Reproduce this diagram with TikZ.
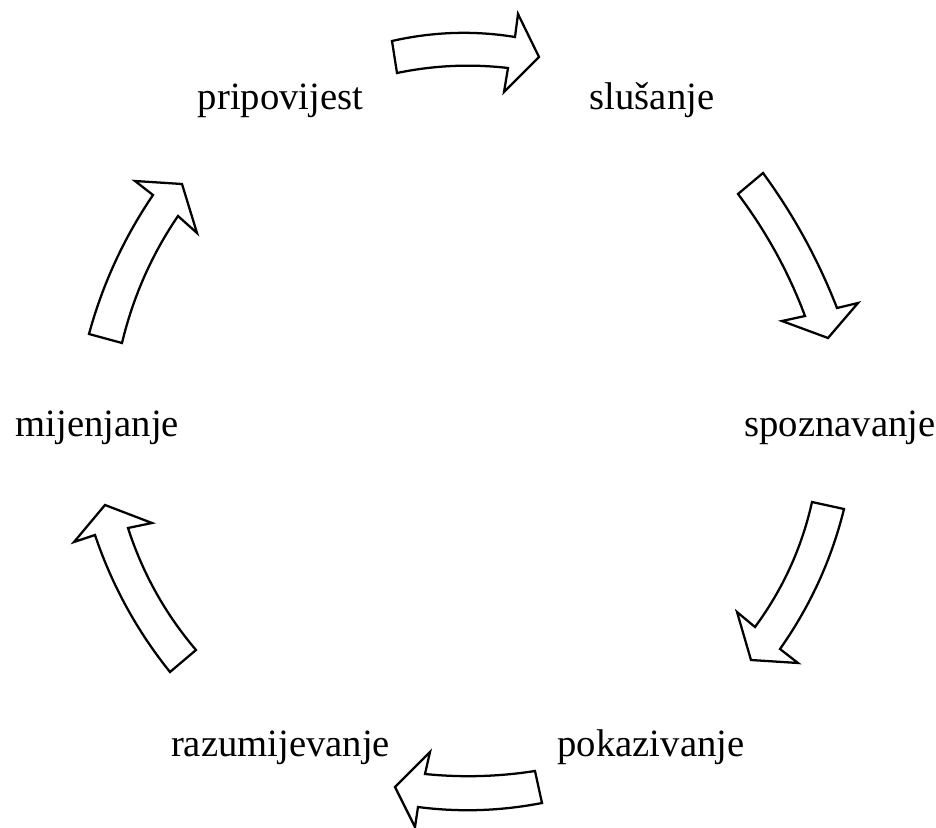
\documentclass[tikz,border=0pt]{standalone}
\usepackage{fontspec}
\setmainfont{Liberation Serif}
\begin{document}
\begin{tikzpicture}[x=0.75pt,y=-0.75pt,
  blockarrow/.style={draw=black,fill=white,line width=1.7pt,line join=miter},
  lbl/.style={anchor=base,inner sep=0pt,font=\fontsize{29}{35}\selectfont}]
\useasboundingbox (0,0) rectangle (936,828);
% labels
\node[lbl] (prip) at (280.5,109) {pripovijest};
\node[lbl] (slus) at (652,109) {slušanje};
\node[lbl] (spoz) at (840,436) {spoznavanje};
\node[lbl] (poka) at (651,756) {pokazivanje};
\node[lbl] (razu) at (280.5,756) {razumijevanje};
\node[lbl] (mije) at (97.5,436) {mijenjanje};
% arrow: pripovijest -> slusanje
\draw[blockarrow] (392,41) .. controls (433,31.7) and (474,30.3) .. (515,37) -- (518,14) -- (539,57) -- (504,92) -- (508,68) .. controls (471,63.7) and (434,65.3) .. (397,73) -- cycle;
% arrow: slusanje -> spoznavanje
\draw[blockarrow] (738,194) -- (763,173) .. controls (793.6,214.8) and (818.2,259.8) .. (837,308) -- (858,303) -- (828,338) -- (782,321) -- (805,316) .. controls (788.6,272.1) and (766.2,231.5) .. (738,194) -- cycle;
% arrow: spoznavanje -> pokazivanje
\draw[blockarrow] (812,502) -- (844,509) .. controls (831.5,559.7) and (810.1,606.3) .. (780,649) -- (798,663) -- (751,660) -- (737,612) -- (755,627) .. controls (782.8,589.3) and (801.8,547.7) .. (812,502) -- cycle;
% arrow: pokazivanje -> razumijevanje
\draw[blockarrow] (535,771) -- (542,803) .. controls (500.7,811) and (459.3,812.4) .. (418,807) -- (415,827) -- (395,787) -- (430,752) -- (425,774) .. controls (461.7,777.7) and (498.3,776.7) .. (535,771) -- cycle;
% arrow: razumijevanje -> mijenjanje
\draw[blockarrow] (170,672) -- (196,650) .. controls (165.2,613.8) and (142.6,573.2) .. (128,528) -- (152,523) -- (105,505) -- (74,542) -- (95,535) .. controls (111.9,585.2) and (136.9,630.8) .. (170,672) -- cycle;
% arrow: mijenjanje -> pripovijest
\draw[blockarrow] (89,334) .. controls (102.6,284.1) and (124,237.7) .. (153,195) -- (135,181) -- (182,184) -- (197,233) -- (178,216) .. controls (151.6,254.7) and (133,297.1) .. (122,343) -- cycle;
\end{tikzpicture}
\end{document}
